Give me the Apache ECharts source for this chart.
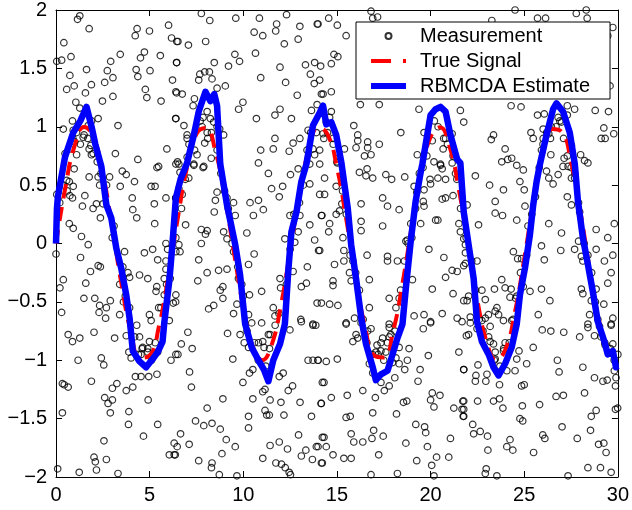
<!DOCTYPE html>
<html>
<head>
<meta charset="utf-8">
<script src="https://cdn.jsdelivr.net/npm/echarts@6/dist/echarts.min.js"></script>
<style>
html,body{margin:0;padding:0;background:#fff;}
#chart{width:632px;height:510px;}
</style>
</head>
<body>
<div id="chart"></div>
<script>
// ---------- DATA ----------
const seriesNames = ['Measurement', 'True Signal', 'RBMCDA Estimate'];
const xTicks = [0, 5, 10, 15, 20, 25, 30];
const yTickLabels = ['\u22122', '\u22121.5', '\u22121', '\u22120.5', '0', '0.5', '1', '1.5', '2'];

const trueX = [0,0.5,1,1.5,2,2.5,3,3.5,4,4.5,5,5.5,6,6.5,7,7.5,8,8.5,9,9.5,10,10.5,11,11.5,12,12.5,13,13.5,14,14.5,15,15.5,16,16.5,17,17.5,18,18.5,19,19.5,20,20.5,21,21.5,22,22.5,23,23.5,24,24.5,25,25.5,26,26.5,27,27.5,28,28.5,29,29.5,30];
const trueY = [0,0.479,0.841,0.997,0.909,0.598,0.141,-0.351,-0.757,-0.978,-0.959,-0.706,-0.279,0.215,0.657,0.938,0.989,0.798,0.412,-0.075,-0.544,-0.880,-1.000,-0.875,-0.537,-0.066,0.420,0.804,0.991,0.935,0.650,0.206,-0.288,-0.712,-0.961,-0.976,-0.751,-0.342,0.150,0.606,0.913,0.996,0.837,0.471,-0.009,-0.487,-0.846,-0.998,-0.906,-0.590,-0.132,0.359,0.763,0.980,0.956,0.699,0.271,-0.224,-0.664,-0.941,-0.988];

const estX = [0,0.05,0.1,0.48,0.92,1.3,1.63,1.9,2.1,2.42,2.69,2.95,3.22,3.48,3.75,3.93,4.10,4.46,4.81,5.16,5.43,5.69,5.78,6.05,6.22,6.40,6.65,7.0,7.36,7.62,7.98,8.24,8.45,8.6,8.77,9.13,9.57,9.83,10.01,10.1,10.45,10.81,11.1,11.34,11.6,11.96,12.22,12.40,12.57,12.84,13.1,13.37,13.72,14.08,14.26,14.43,14.70,14.96,15.23,15.58,15.76,16.02,16.29,16.55,16.91,17.08,17.35,17.70,17.97,18.23,18.5,18.68,18.94,19.2,19.47,19.56,20.0,20.27,20.53,20.8,21.06,21.42,21.59,21.77,22.03,22.3,22.48,22.74,23.1,23.36,23.63,23.98,24.33,24.6,24.77,25.04,25.3,25.48,25.66,25.84,26.19,26.54,26.72,27.07,27.43,27.7,27.87,28.13,28.4,28.66,28.93,29.28,29.46,29.73,29.9,30];
const estY = [0.0,0.30,0.40,0.74,0.95,1.05,1.17,1.00,0.85,0.66,0.33,0.22,-0.04,-0.21,-0.44,-0.64,-0.92,-1.01,-1.06,-0.99,-0.93,-0.84,-0.68,-0.32,0.0,0.39,0.55,0.69,0.93,1.13,1.30,1.22,1.28,1.18,0.68,0.33,-0.01,-0.27,-0.55,-0.69,-0.89,-1.0,-1.08,-1.18,-1.0,-0.86,-0.69,-0.24,0.10,0.27,0.53,0.68,1.01,1.12,1.18,1.02,1.04,0.93,0.70,0.30,-0.01,-0.30,-0.63,-0.86,-1.06,-1.17,-1.12,-1.09,-0.95,-0.81,-0.69,-0.38,0.02,0.36,0.61,0.68,1.10,1.15,1.17,1.13,0.93,0.72,0.69,0.27,-0.01,-0.30,-0.67,-0.84,-0.95,-1.06,-1.13,-1.03,-0.89,-0.69,-0.44,-0.21,0.07,0.33,0.53,0.68,0.93,1.15,1.20,1.13,0.95,0.68,0.36,0.05,-0.18,-0.41,-0.67,-0.84,-0.95,-0.92,-1.06,-1.05];

const measurements = [
[1.27,1.95],[1.15,1.92],[1.77,1.84],[0.42,1.72],[0.04,1.56],[0.30,1.57],[0.80,1.60],[1.63,1.49],[0.74,1.44],[0.57,1.32],[0.97,1.35],[1.89,1.36],[1.57,1.29],[1.06,1.21],[1.27,1.16],[2.25,1.07],[0.88,1.05],[0.39,0.98],[2.48,1.22],[3.04,1.26],[2.60,1.38],[3.04,1.42],[2.74,1.48],[2.92,1.56],[3.43,1.62],[4.23,1.78],[4.33,1.84],[4.99,1.82],[6.01,1.87],[6.17,1.76],[6.45,1.73],[5.57,1.61],[4.72,1.64],[4.51,1.59],[4.28,1.49],[4.37,1.43],[5.02,1.48],[4.77,1.32],[4.85,1.25],[5.61,1.22],[6.22,1.40],[6.40,1.30],[6.44,1.55],[6.40,1.07],[3.31,1.01],[3.17,0.77],[4.37,0.72],[5.48,0.66],[5.92,0.81],[6.49,0.70],[1.50,0.93],[1.86,0.84],[1.89,0.76],[1.10,0.76],[0.48,0.77],[0.92,0.97],[1.72,1.01],[1.45,0.91],[1.77,0.81],[1.98,0.77],[0.74,0.81],[1.0,0.87],
[7.76,1.97],[8.21,1.91],[9.60,1.93],[10.86,1.93],[12.31,1.96],[11.78,1.88],[11.73,1.82],[13.02,1.86],[13.95,1.88],[10.58,1.81],[11.04,1.78],[6.51,1.73],[7.07,1.70],[7.99,1.73],[12.93,1.75],[12.19,1.71],[9.55,1.62],[9.80,1.56],[9.21,1.52],[6.44,1.55],[8.45,1.55],[10.65,1.63],[11.96,1.51],[13.32,1.53],[13.81,1.55],[13.58,1.45],[7.68,1.45],[7.94,1.47],[8.19,1.47],[7.62,1.40],[8.33,1.41],[9.04,1.35],[8.60,1.33],[10.93,1.42],[12.26,1.38],[13.79,1.37],[14.17,1.28],[12.88,1.27],[6.44,1.29],[6.74,1.28],[7.39,1.24],[7.32,1.18],[9.98,1.21],[9.75,1.15],[11.96,1.15],[11.69,1.10],[12.57,1.07],[13.64,1.14],[13.94,1.19],[10.70,1.07],[6.39,1.07],[6.83,1.01],[7.00,0.93],[7.00,0.90],[7.94,0.86],[8.95,0.93],[8.74,0.98],[11.69,0.90],[11.60,0.81],[10.93,0.80],[12.45,0.79],[12.66,0.86],[13.02,0.90],[13.46,0.97],[10.81,0.69],[6.56,0.68],[7.36,0.68],[7.89,0.66],[7.00,0.74],[7.53,0.76],[8.29,0.73],[13.72,0.81],[14.08,0.80],[13.81,0.76],[13.55,0.68],[8.07,1.13],[8.24,1.07],[7.85,1.08],[8.42,1.04],[8.07,0.95],[8.6,1.0],
[14.56,1.93],[15.02,1.87],[15.49,1.78],[16.82,1.99],[16.91,1.93],[17.17,1.94],[13.99,1.88],[14.84,1.62],[15.05,1.60],[14.70,1.54],[14.13,1.52],[14.08,1.40],[14.26,1.28],[14.70,1.30],[14.70,1.13],[14.61,1.08],[14.43,1.04],[16.25,1.19],[17.26,1.19],[14.26,0.94],[14.79,0.90],[15.40,0.81],[15.90,1.01],[16.11,0.93],[16.11,0.88],[16.02,0.82],[16.64,0.87],[16.64,0.82],[17.26,0.85],[16.82,0.76],[16.47,0.75],[15.05,0.73],[18.41,0.95],[19.38,1.15],[19.65,0.95],[19.29,0.76],[20.09,0.88],[20.80,0.90],[20.67,0.81],[21.15,0.94],[20.53,0.68],[21.59,1.14],[21.77,1.04],
[24.51,2.00],[27.78,1.97],[28.31,2.00],[28.36,1.93],[25.71,1.93],[26.14,1.93],[29.73,1.85],[23.27,1.91],[29.46,1.78],[29.37,1.42],[29.58,1.35],[24.30,1.18],[24.83,1.17],[25.71,1.10],[26.07,1.11],[27.30,1.18],[27.69,1.15],[27.30,1.10],[29.50,1.13],[28.79,1.14],[29.25,0.99],[26.81,1.08],[26.99,1.04],[26.45,1.00],[26.01,0.98],[25.36,0.95],[25.48,0.90],[26.01,0.90],[26.31,0.94],[25.92,0.80],[26.42,0.76],[29.78,0.94],[29.11,0.90],[29.32,0.90],[23.36,0.93],[23.24,0.89],[23.98,0.81],[24.33,0.73],[24.12,0.72],[27.52,0.84],[27.13,0.73],[28.01,0.76],[28.22,0.71],
[0.04,0.42],[0.21,0.41],[0.57,0.54],[0.71,0.53],[0.97,0.64],[0.92,0.49],[0.74,0.41],[0.88,0.39],[1.41,0.32],[1.54,0.41],[1.98,0.30],[2.16,0.34],[1.77,0.57],[2.25,0.57],[2.33,0.50],[2.86,0.57],[3.54,0.62],[3.43,0.49],[4.19,0.53],[3.75,0.59],[5.39,0.65],[6.40,0.68],[5.08,0.49],[5.29,0.49],[4.07,0.39],[4.10,0.29],[4.31,0.22],[5.25,0.34],[5.87,0.39],[6.40,0.39],[5.27,0.17],[2.37,0.22],[2.51,0.34],[1.36,0.06],[1.72,-0.01],[0.92,0.13],[0.71,0.17],[0.00,-0.09],[0.39,-0.31],[0.21,-0.38],[1.31,-0.12],[1.84,-0.24],[2.25,-0.19],[2.37,-0.20],[1.59,-0.34],[1.49,-0.47],[2.07,-0.47],[2.33,-0.53],[2.30,-0.59],[2.69,-0.55],[2.65,-0.64],[2.90,-0.49],[0.30,-0.59],[3.66,-0.07],[3.57,-0.20],[3.84,-0.25],[3.93,-0.29],[4.46,-0.27],[4.90,-0.30],[4.72,-0.08],[5.16,-0.05],[5.43,-0.14],[5.38,-0.37],[5.34,-0.41],[5.87,0.00],[5.96,-0.05],[5.87,-0.22],[5.78,-0.30],[6.26,-0.51],[6.40,-0.44],[4.99,-0.61],[5.08,-0.66],[3.40,-0.61],[3.93,-0.55],[5.87,-0.15],[6.40,-0.07],[5.78,-0.44],[5.48,-0.55],[6.05,-0.66],
[6.62,0.61],[7.09,0.56],[7.36,0.67],[7.85,0.65],[6.56,0.47],[6.74,0.42],[6.39,0.39],[8.60,0.44],[8.51,0.37],[8.45,0.27],[9.13,0.39],[9.48,0.35],[9.57,0.24],[10.36,0.35],[10.81,0.37],[11.07,0.29],[10.54,0.24],[11.34,0.60],[11.51,0.47],[12.10,0.49],[11.92,0.40],[12.52,0.59],[12.93,0.64],[14.08,0.68],[13.55,0.51],[14.08,0.42],[12.49,0.24],[13.02,0.24],[14.17,0.24],[13.55,0.16],[12.93,0.10],[12.75,0.01],[12.22,0.04],[13.81,0.03],[14.02,-0.06],[6.92,0.16],[7.76,0.12],[7.98,0.08],[8.07,0.11],[7.76,0.00],[8.95,0.10],[9.13,0.04],[9.48,-0.07],[10.19,0.09],[10.58,-0.09],[10.28,-0.18],[9.13,-0.22],[8.68,-0.23],[8.07,-0.25],[7.62,-0.14],[6.62,-0.07],[6.56,-0.01],[7.57,-0.32],[8.91,-0.37],[8.77,-0.40],[8.91,-0.47],[9.74,-0.30],[9.92,-0.35],[10.33,-0.44],[10.98,-0.41],[9.66,-0.52],[9.48,-0.60],[10.28,-0.61],[8.15,-0.56],[8.42,-0.53],[6.39,-0.50],[11.96,-0.30],[11.99,-0.38],[11.60,-0.55],[11.69,-0.62],[12.66,-0.24],[13.10,-0.37],[13.37,-0.34],[13.42,-0.20],[13.94,-0.51],[13.07,-0.65],[13.72,-0.69],[10.45,-0.68],[10.98,-0.68],
[15.02,0.69],[16.20,0.61],[16.61,0.64],[16.55,0.58],[16.91,0.56],[17.61,0.59],[17.92,0.55],[18.62,0.57],[20.18,0.70],[20.53,0.67],[20.62,0.64],[19.97,0.55],[20.00,0.51],[20.39,0.56],[20.80,0.55],[21.15,0.69],[21.33,0.60],[14.34,0.56],[14.96,0.49],[14.34,0.42],[15.26,0.34],[16.29,0.34],[17.44,0.39],[17.70,0.32],[18.32,0.29],[19.12,0.49],[19.26,0.44],[19.65,0.46],[19.61,0.36],[19.65,0.32],[20.62,0.38],[20.80,0.39],[21.20,0.41],[14.20,0.24],[14.61,0.17],[14.56,0.10],[14.96,0.25],[15.14,0.28],[16.29,0.19],[16.29,0.11],[17.44,0.15],[18.94,0.17],[19.47,0.17],[20.27,0.20],[20.39,0.20],[21.51,0.17],[21.59,0.10],[15.32,0.05],[15.37,-0.06],[14.08,-0.06],[16.61,-0.10],[17.70,-0.11],[17.70,-0.15],[18.23,-0.15],[18.68,0.02],[18.76,0.03],[19.91,-0.05],[20.71,-0.12],[21.15,-0.23],[21.42,-0.24],[20.80,-0.29],[21.86,-0.17],[21.86,-0.01],[14.87,-0.18],[15.37,-0.15],[15.85,-0.15],[15.67,-0.25],[16.73,-0.31],[15.76,-0.32],[14.79,-0.32],[14.79,-0.36],[19.03,-0.31],[20.09,-0.39],[21.20,-0.43],[21.77,-0.49],[14.17,-0.51],[14.61,-0.52],[15.05,-0.53],[18.32,-0.47],[17.79,-0.47],[18.15,-0.55],[16.73,-0.55],[15.94,-0.64],[15.49,-0.68],[16.29,-0.68],[17.79,-0.69],[20.00,-0.67],[20.62,-0.60],[21.42,-0.64],[21.68,-0.67],[19.12,-0.62],[19.65,-0.61],
[23.80,0.70],[24.60,0.67],[24.95,0.63],[22.39,0.58],[23.15,0.50],[23.89,0.46],[24.77,0.53],[25.00,0.46],[26.19,0.62],[26.31,0.56],[26.81,0.59],[26.54,0.51],[27.07,0.66],[27.34,0.66],[27.52,0.56],[27.69,0.56],[28.40,0.69],[23.45,0.36],[23.45,0.26],[23.84,0.24],[21.95,0.33],[25.04,0.32],[24.60,0.20],[22.56,0.16],[26.31,0.17],[26.99,0.09],[27.30,0.40],[27.52,0.33],[27.96,0.27],[28.84,0.12],[29.46,0.05],[29.81,0.17],[21.77,0.04],[21.86,-0.08],[21.77,-0.19],[22.48,-0.15],[24.42,-0.07],[24.65,-0.13],[24.86,-0.13],[25.13,-0.10],[25.92,-0.02],[26.07,-0.14],[26.95,-0.06],[27.69,-0.05],[27.90,0.02],[28.84,-0.05],[29.28,-0.15],[29.73,-0.10],[28.05,-0.11],[28.13,-0.15],[29.64,-0.25],[29.46,-0.34],[23.80,-0.31],[23.98,-0.38],[24.30,-0.39],[23.41,-0.39],[22.74,-0.40],[22.03,-0.45],[21.95,-0.49],[22.92,-0.48],[24.24,-0.46],[24.54,-0.47],[24.95,-0.37],[25.31,-0.41],[25.92,-0.39],[26.37,-0.49],[28.05,-0.39],[28.13,-0.43],[28.84,-0.39],[29.25,-0.52],[28.58,-0.49],[23.54,-0.55],[23.63,-0.61],[23.45,-0.58],[23.09,-0.61],[22.92,-0.64],[22.12,-0.63],[23.89,-0.66],[24.33,-0.66],[25.75,-0.61],[28.49,-0.61],[28.40,-0.69],[28.93,-0.65],[29.73,-0.64],[29.64,-0.69],[22.74,-0.66],
[0.65,-0.78],[0.88,-0.84],[1.27,-0.81],[2.03,-0.76],[1.18,-1.00],[2.42,-0.98],[2.55,-1.04],[3.13,-0.81],[3.75,-0.79],[4.31,-0.70],[4.46,-0.80],[3.89,-0.93],[4.01,-0.98],[4.63,-0.89],[4.99,-0.84],[4.90,-0.93],[4.54,-0.95],[5.43,-0.93],[6.40,-0.95],[6.14,-1.00],[4.24,-1.14],[4.54,-1.14],[4.95,-1.14],[5.39,-1.12],[0.34,-1.20],[0.44,-1.21],[0.65,-1.23],[1.89,-1.18],[3.01,-1.24],[3.25,-1.20],[2.60,-1.32],[3.01,-1.34],[2.78,-1.37],[3.75,-1.26],[4.10,-1.23],[4.92,-1.34],[3.89,-1.44],[0.34,-1.45],[2.90,-1.45],[3.87,-1.55],[5.43,-1.55],[4.67,-1.65],[2.56,-1.69],[6.31,-1.71],[6.05,-1.81],[6.31,-1.81],[2.03,-1.83],[2.10,-1.87],[2.69,-1.85],[0.09,-1.93],[1.24,-1.96],[2.16,-1.94],[3.31,-1.97],
[7.04,-0.76],[6.69,-0.86],[7.27,-0.90],[6.51,-0.95],[9.16,-0.77],[9.83,-0.78],[9.44,-0.99],[10.05,-0.85],[10.28,-0.89],[10.81,-0.85],[11.04,-0.84],[11.11,-0.89],[11.34,-0.78],[11.43,-0.78],[12.49,-0.74],[13.10,-0.67],[13.72,-0.70],[13.87,-0.70],[7.13,-1.10],[7.23,-1.23],[10.33,-1.11],[10.51,-1.08],[9.98,-1.19],[11.04,-1.27],[11.16,-1.25],[12.13,-1.11],[11.92,-1.14],[12.40,-1.26],[12.63,-1.22],[13.46,-1.00],[13.72,-1.00],[13.99,-1.00],[14.22,-1.19],[8.91,-1.33],[8.07,-1.41],[10.51,-1.33],[11.43,-1.34],[12.01,-1.36],[13.03,-1.36],[14.15,-1.37],[7.45,-1.52],[7.89,-1.56],[8.33,-1.54],[8.77,-1.59],[10.28,-1.48],[11.16,-1.43],[11.25,-1.47],[11.39,-1.47],[12.17,-1.47],[13.64,-1.48],[10.28,-1.58],[9.09,-1.68],[6.65,-1.63],[6.47,-1.74],[7.11,-1.72],[6.37,-1.81],[9.57,-1.74],[8.86,-1.80],[11.43,-1.73],[11.92,-1.70],[12.36,-1.76],[12.95,-1.64],[13.34,-1.77],[13.90,-1.74],[14.22,-1.66],[7.62,-1.86],[8.33,-1.88],[8.30,-1.92],[8.72,-1.98],[9.66,-1.99],[11.04,-1.84],[11.74,-1.88],[12.04,-1.89],[12.24,-1.92],[12.45,-1.96],[12.52,-1.98],[13.10,-1.82],[13.69,-1.85],[14.17,-1.88],
[15.49,-0.69],[16.02,-0.78],[15.85,-0.84],[16.11,-0.81],[16.64,-0.75],[16.82,-0.73],[17.14,-0.87],[17.35,-0.85],[17.44,-0.81],[17.79,-0.72],[17.88,-0.78],[17.70,-0.85],[17.61,-0.93],[17.35,-0.92],[17.08,-0.93],[16.73,-1.03],[16.91,-1.11],[17.97,-1.02],[18.15,-0.98],[18.32,-1.03],[18.62,-1.08],[18.76,-1.00],[18.85,-0.90],[18.32,-0.89],[19.61,-0.73],[20.00,-0.68],[19.88,-0.96],[21.51,-0.93],[21.77,-1.08],[21.91,-0.79],[19.44,-1.08],[19.33,-1.18],[18.09,-1.15],[17.79,-1.22],[17.53,-1.26],[17.35,-1.19],[17.05,-1.32],[13.99,-1.00],[14.43,-1.01],[15.02,-0.99],[14.31,-1.19],[16.38,-1.26],[15.55,-1.30],[14.70,-1.32],[14.17,-1.37],[18.55,-1.36],[18.73,-1.35],[20.09,-1.28],[20.50,-1.30],[20.00,-1.34],[20.18,-1.40],[21.24,-1.41],[21.72,-1.35],[21.68,-1.42],[21.74,-1.48],[16.91,-1.45],[18.18,-1.46],[15.49,-1.49],[15.71,-1.48],[19.21,-1.55],[19.68,-1.57],[19.74,-1.62],[16.96,-1.60],[15.76,-1.63],[17.47,-1.65],[16.87,-1.67],[15.90,-1.70],[16.38,-1.70],[14.31,-1.66],[13.99,-1.74],[14.43,-1.74],[14.79,-1.81],[14.22,-1.88],[15.37,-1.84],[15.76,-1.84],[17.23,-1.81],[18.68,-1.71],[19.83,-1.74],[21.06,-1.67],[20.32,-1.83],[20.97,-1.83],[20.06,-1.90],[19.26,-1.86],[16.82,-1.98],[18.23,-1.97],[20.18,-1.99],
[22.12,-0.68],[22.48,-0.73],[22.03,-0.78],[23.18,-0.71],[23.18,-0.84],[23.36,-0.86],[23.45,-0.93],[23.89,-0.92],[23.98,-0.85],[23.45,-0.99],[23.01,-1.12],[22.95,-1.18],[22.39,-1.18],[22.42,-1.13],[22.53,-1.04],[21.77,-1.08],[24.07,-1.09],[24.51,-1.09],[24.60,-0.99],[24.72,-0.92],[25.13,-1.03],[25.48,-0.89],[25.96,-0.74],[26.42,-0.75],[27.11,-0.76],[27.96,-0.80],[26.77,-1.00],[26.86,-1.10],[28.13,-1.06],[28.75,-1.15],[29.20,-1.18],[29.43,-1.17],[28.40,-0.72],[28.75,-0.79],[29.02,-0.71],[29.64,-0.70],[29.32,-0.87],[29.73,-0.86],[29.81,-1.09],[29.90,-1.15],[29.87,-1.22],[23.68,-1.21],[24.86,-1.22],[25.00,-1.21],[21.77,-1.35],[21.77,-1.42],[21.77,-1.48],[22.51,-1.35],[23.36,-1.35],[23.68,-1.33],[23.86,-1.41],[24.90,-1.39],[25.82,-1.38],[26.70,-1.31],[27.09,-1.30],[28.22,-1.28],[24.77,-1.50],[24.92,-1.52],[22.25,-1.55],[22.30,-1.63],[22.65,-1.61],[23.04,-1.65],[24.24,-1.68],[24.07,-1.74],[24.39,-1.77],[23.06,-1.77],[25.99,-1.64],[26.10,-1.67],[27.02,-1.57],[27.83,-1.67],[28.54,-1.60],[28.84,-1.43],[28.58,-1.48],[28.97,-1.72],[29.25,-1.71],[29.37,-1.79],[25.50,-1.79],[29.87,-1.42],[29.99,-1.41],[22.97,-1.93],[22.92,-1.97],[23.54,-1.99],[27.34,-1.99],[28.40,-1.92],[29.07,-1.92],[29.64,-1.96],
[0.2,0.35],[0.6,0.45],[0.9,0.90],[1.3,0.85],[1.9,1.05],[2.2,0.70],[2.7,0.50],[3.1,0.15],[3.4,-0.35],[3.7,-0.45],[4.2,-0.80],[4.6,-0.90],[5.1,-1.00],[5.6,-0.55],[6.1,-0.30],[6.7,0.30],[7.1,0.85],[7.4,0.80],[7.7,1.05],[8.3,0.95],[8.8,0.60],[9.2,0.30],[9.7,-0.20],[10.2,-0.75],[10.6,-0.85],[11.2,-1.05],[11.7,-0.70],[12.3,-0.35],[12.7,0.25],[13.2,0.50],[13.6,0.95],[14.3,0.90],[14.8,0.85],[15.3,0.45],[15.7,-0.10],[16.2,-0.40],[16.6,-0.85],[17.2,-0.95],[17.8,-0.80],[18.1,-0.75],[18.6,-0.15],[19.0,0.05],[19.4,0.60],[19.8,0.75],[20.2,1.05],[20.7,0.90],[21.2,0.75],[21.6,0.30],[22.2,-0.15],[22.6,-0.65],[23.1,-0.80],[23.7,-1.05],[24.2,-0.85],[24.6,-0.45],[25.2,0.15],[25.6,0.40],[26.0,0.85],[26.4,0.90],[26.9,1.05],[27.3,0.75],[27.7,0.60],[28.2,0.00],[28.6,-0.25],[29.1,-0.80],[29.6,-0.90],
[0.4,0.50],[1.1,0.95],[1.7,0.90],[2.4,0.60],[3.0,0.05],[3.6,-0.50],[4.4,-0.95],[4.9,-0.90],[5.3,-0.85],[5.9,-0.35],[6.4,0.05],[6.9,0.55],[7.8,1.00],[8.1,0.90],[8.6,0.80],[9.0,0.45],[9.4,0.00],[10.0,-0.45],[10.8,-1.00],[11.4,-0.90],[11.9,-0.60],[12.5,-0.05],[13.0,0.35],[13.4,0.80],[13.9,0.95],[14.5,0.95],[15.0,0.70],[15.5,0.25],[16.0,-0.25],[16.4,-0.65],[16.9,-0.95],[17.5,-1.00],[18.4,-0.40],[18.8,0.00],[19.2,0.30],[19.6,0.65],[20.4,1.00],[20.9,0.85],[21.4,0.55],[21.9,0.05],[22.4,-0.40],[22.8,-0.75],[23.4,-1.00],[23.9,-0.90],[24.4,-0.65],[24.8,-0.25],[25.4,0.25],[25.8,0.65],[26.2,0.95],[26.7,1.00],[27.1,0.90],[27.5,0.65],[27.9,0.35],[28.4,-0.10],[28.8,-0.50],[29.3,-0.85],[29.8,-1.00],[30.0,-0.95]
];

// ---------- CHART ----------
const FONT = '"Liberation Sans", Arial, Helvetica, sans-serif';
const trueData = trueX.map((x, i) => [x, trueY[i]]);
const estData = estX.map((x, i) => [x, estY[i]]);
const yLabelFor = v => yTickLabels[Math.round((v + 2) / 0.5)];

const axisLineStyle = { color: '#000', width: 1 };
const baseX = {
  type: 'value', min: xTicks[0], max: xTicks[xTicks.length - 1], interval: 5,
  axisLine: { show: true, onZero: false, lineStyle: axisLineStyle },
  axisTick: { show: true, inside: true, length: 6, lineStyle: axisLineStyle },
  splitLine: { show: false }
};
const baseY = {
  type: 'value', min: -2, max: 2, interval: 0.5,
  axisLine: { show: true, onZero: false, lineStyle: axisLineStyle },
  axisTick: { show: true, inside: true, length: 6, lineStyle: axisLineStyle },
  splitLine: { show: false }
};

const chart = echarts.init(document.getElementById('chart'), null, { renderer: 'canvas' });
chart.setOption({
  animation: false,
  backgroundColor: '#fff',
  grid: { left: 56, right: 10, top: 7, bottom: 33, containLabel: false },
  xAxis: [
    Object.assign({}, baseX, { position: 'bottom',
      axisLabel: { color: '#000', fontSize: 20, fontFamily: FONT, margin: 8 } }),
    Object.assign({}, baseX, { position: 'top', axisLabel: { show: false } })
  ],
  yAxis: [
    Object.assign({}, baseY, { position: 'left',
      axisLabel: { color: '#000', fontSize: 20, fontFamily: FONT, margin: 9, formatter: yLabelFor } }),
    Object.assign({}, baseY, { position: 'right', axisLabel: { show: false } })
  ],
  legend: {
    orient: 'vertical', left: 356, top: 22,
    data: [
      { name: seriesNames[0] },
      { name: seriesNames[1], itemStyle: { opacity: 0 }, lineStyle: { width: 4, type: [20, 12] } },
      { name: seriesNames[2], itemStyle: { opacity: 0 }, lineStyle: { width: 6 } }
    ],
    itemWidth: 35, itemHeight: 6, itemGap: 5,
    padding: [4, 20, 3, 12],
    backgroundColor: '#fff', borderColor: '#000', borderWidth: 1, borderRadius: 0,
    textStyle: { color: '#000', fontSize: 20, fontFamily: FONT, lineHeight: 20, padding: [0, 0, 0, 9] }
  },
  series: [
    {
      name: seriesNames[0], type: 'scatter', xAxisIndex: 0, yAxisIndex: 0,
      symbol: 'circle', symbolSize: 6.5,
      itemStyle: { color: 'rgba(255,255,255,0)', borderColor: '#000', borderWidth: 1.2 },
      data: measurements, z: 2
    },
    {
      name: seriesNames[1], type: 'line', xAxisIndex: 0, yAxisIndex: 0,
      smooth: true, symbol: 'none', showSymbol: false,
      lineStyle: { color: '#ff0000', width: 4, type: [14, 9] },
      itemStyle: { color: '#ff0000' },
      data: trueData, z: 3
    },
    {
      name: seriesNames[2], type: 'line', xAxisIndex: 0, yAxisIndex: 0,
      symbol: 'none', showSymbol: false,
      lineStyle: { color: '#0000ff', width: 6.5, join: 'round' },
      itemStyle: { color: '#0000ff' },
      data: estData, z: 4
    }
  ]
});
</script>
</body>
</html>
